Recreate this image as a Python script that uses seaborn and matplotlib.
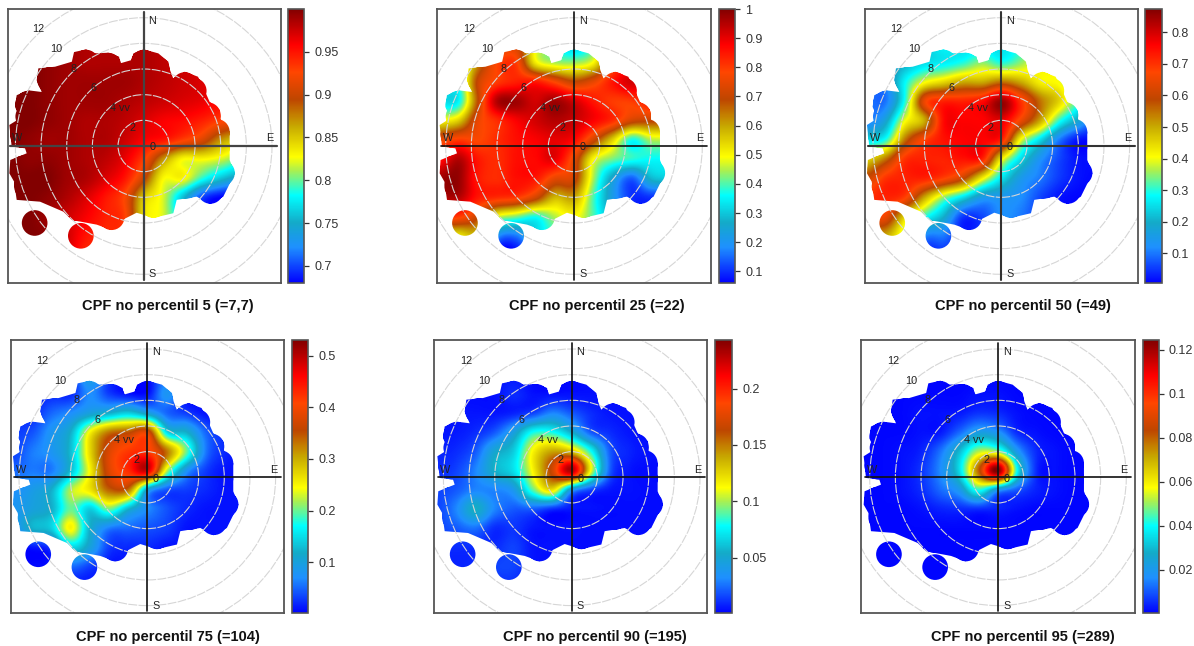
"""CPF polar maps, six percentiles, wind speed vs direction."""
import matplotlib
matplotlib.use("Agg")
import matplotlib.pyplot as plt  # noqa: E402
from matplotlib.colors import LinearSegmentedColormap  # noqa: E402
from matplotlib.patches import Circle  # noqa: E402
from matplotlib.path import Path  # noqa: E402
import numpy as np  # noqa: E402
import seaborn as sns  # noqa: E402

sns.set_theme(style="white")
plt.rcParams["font.family"] = ["Liberation Sans", "DejaVu Sans"]

# grid of the CPF tables: u, v in wind speed units
GRID_U = [-10.5, -9, -7.5, -6, -4.5, -3, -1.5, 0, 1.5, 3, 4.5, 6, 7.5]
GRID_V = [8, 6.5, 5, 3.5, 2, 0.5, -1, -2.5, -4, -5.5, -7, -8.5]

CPF_P5 = [
    [1, 1, .995, .99, .985, .985, .985, .985, .98, .975, .97, .965, .96],
    [1, 1, .995, .99, .985, .985, .985, .985, .98, .975, .97, .965, .96],
    [1, 1, .995, .99, .99, .99, .99, .985, .98, .975, .97, .96, .955],
    [1, 1, .995, .99, .99, .99, .985, .98, .975, .97, .965, .955, .95],
    [1, 1, .995, .99, .985, .985, .98, .97, .96, .955, .945, .93, .92],
    [1, .995, .99, .99, .985, .985, .975, .96, .95, .93, .91, .87, .85],
    [1, .995, .995, .99, .985, .98, .965, .93, .87, .83, .83, .82, .80],
    [1, 1, 1, .99, .985, .97, .95, .9, .83, .83, .79, .76, .74],
    [1, 1, .995, .985, .97, .95, .925, .85, .82, .76, .70, .68, .68],
    [1, 1, .99, .975, .96, .945, .93, .84, .82, .76, .7, .68, .68],
    [1, 1, .995, .975, .95, .94, .93, .84, .82, .76, .7, .68, .68],
    [1, 1, .995, .975, .94, .94, .93, .84, .82, .76, .7, .68, .68],
]
CPF_P25 = [
    [.5, .5, .6, .7, .72, .5, .4, .3, .4, .7, .85, .85, .85],
    [.45, .4, .62, .78, .8, .52, .45, .44, .5, .75, .85, .85, .85],
    [.4, .38, .7, .8, .84, .85, .78, .7, .75, .85, .92, .85, .85],
    [.33, .35, .68, .95, .97, .92, .97, .92, .85, .8, .8, .85, .85],
    [.5, .55, .75, .82, .88, .92, .95, .93, .88, .82, .72, .7, .7],
    [.75, .8, .78, .82, .86, .88, .9, .87, .72, .55, .37, .45, .45],
    [.85, .95, .85, .82, .86, .87, .9, .75, .5, .42, .38, .36, .36],
    [.97, .98, .85, .82, .86, .85, .75, .72, .45, .25, .14, .28, .3],
    [.95, .95, .85, .82, .8, .72, .58, .6, .4, .22, .1, .1, .1],
    [.8, .8, .7, .48, .42, .37, .45, .5, .4, .25, .1, .1, .1],
    [.52, .52, .55, .2, .16, .3, .4, .5, .4, .25, .1, .1, .1],
    [.5, .5, .5, .07, .06, .2, .4, .5, .4, .25, .1, .1, .1],
]
CPF_P50 = [
    [.12, .12, .18, .22, .28, .25, .25, .25, .3, .4, .4, .3, .2],
    [.13, .15, .2, .25, .27, .3, .35, .3, .35, .42, .4, .3, .2],
    [.1, .12, .28, .4, .45, .5, .5, .55, .5, .42, .4, .3, .2],
    [.1, .1, .3, .65, .72, .72, .75, .85, .7, .55, .45, .3, .15],
    [.1, .18, .4, .5, .75, .76, .76, .78, .65, .5, .3, .18, .05],
    [.25, .3, .55, .68, .74, .76, .76, .72, .4, .25, .1, .02, .02],
    [.45, .55, .7, .72, .72, .74, .72, .42, .25, .13, .06, .02, .02],
    [.6, .7, .72, .72, .68, .6, .42, .26, .15, .1, .05, .02, .01],
    [.7, .72, .68, .5, .35, .25, .15, .14, .12, .06, .02, .01, .01],
    [.65, .65, .45, .3, .2, .05, .06, .12, .1, .05, .02, .01, .01],
    [.5, .5, .35, .12, .1, .03, .05, .1, .1, .05, .02, .01, .01],
    [.5, .5, .35, .05, .04, .03, .05, .1, .1, .05, .02, .01, .01],
]
CPF_P75 = [
    [.01, .01, .01, .02, .1, .03, .01, .01, .05, .01, .01, .01, .01],
    [.01, .01, .02, .02, .07, .03, .01, .01, .08, .01, .01, .01, .01],
    [.02, .02, .05, .07, .1, .12, .14, .1, .05, .03, .01, .01, .01],
    [.03, .04, .08, .12, .25, .33, .35, .38, .15, .12, .05, .02, .01],
    [.03, .06, .08, .13, .27, .38, .42, .42, .33, .2, .06, .02, .01],
    [.05, .06, .06, .13, .25, .38, .43, .48, .22, .08, .03, .01, .01],
    [.07, .09, .12, .22, .26, .34, .33, .1, .04, .03, .02, .01, .01],
    [.08, .1, .12, .2, .14, .2, .12, .07, .04, .02, .01, .01, .01],
    [.07, .12, .14, .25, .12, .06, .05, .04, .03, .01, .01, .01, .01],
    [.01, .01, .03, .14, .1, .03, .02, .02, .01, .01, .01, .01, .01],
    [.005, .005, .01, .05, .03, .01, .01, .01, .01, .01, .01, .01, .01],
    [.005, .005, .01, .01, .01, .01, .01, .01, .01, .01, .01, .01, .01],
]
CPF_P90 = [
    [.002, .002, .003, .003, .005, .003, .003, .003, .003, .003, .003, .003, .003],
    [.002, .003, .003, .004, .01, .004, .004, .004, .004, .004, .003, .003, .003],
    [.003, .005, .005, .005, .008, .015, .03, .02, .01, .005, .004, .003, .003],
    [.005, .006, .01, .02, .045, .08, .08, .055, .02, .01, .005, .003, .003],
    [.008, .01, .02, .05, .065, .115, .14, .13, .08, .02, .008, .004, .003],
    [.01, .015, .03, .055, .07, .115, .17, .23, .11, .02, .005, .003, .003],
    [.015, .02, .03, .03, .04, .09, .12, .04, .015, .005, .004, .003, .003],
    [.015, .03, .055, .03, .02, .02, .01, .005, .004, .003, .003, .003, .003],
    [.015, .02, .025, .01, .012, .005, .004, .004, .003, .003, .003, .003, .003],
    [.01, .01, .01, .01, .015, .005, .004, .003, .003, .003, .003, .003, .003],
    [.008, .008, .01, .015, .015, .005, .003, .003, .003, .003, .003, .003, .003],
    [.008, .008, .01, .01, .01, .005, .003, .003, .003, .003, .003, .003, .003],
]
CPF_P95 = [
    [.001, .001, .001, .001, .001, .001, .001, .001, .001, .001, .001, .001, .001],
    [.001, .001, .001, .001, .001, .001, .002, .002, .001, .001, .001, .001, .001],
    [.001, .001, .001, .002, .002, .003, .006, .005, .002, .001, .001, .001, .001],
    [.001, .001, .001, .002, .003, .012, .022, .018, .005, .002, .001, .001, .001],
    [.001, .001, .002, .004, .013, .03, .052, .05, .02, .005, .002, .001, .001],
    [.001, .001, .002, .006, .016, .035, .08, .124, .04, .005, .002, .001, .001],
    [.001, .001, .002, .005, .012, .02, .042, .02, .01, .004, .002, .001, .001],
    [.001, .001, .001, .002, .004, .005, .005, .004, .002, .001, .001, .001, .001],
    [.001, .001, .001, .001, .001, .001, .001, .001, .001, .001, .001, .001, .001],
    [.001, .001, .001, .001, .001, .001, .001, .001, .001, .001, .001, .001, .001],
    [.001, .001, .001, .001, .001, .001, .001, .001, .001, .001, .001, .001, .001],
    [.001, .001, .001, .001, .001, .001, .001, .001, .001, .001, .001, .001, .001],
]

TITLES = ["CPF no percentil 5 (=7,7)", "CPF no percentil 25 (=22)",
          "CPF no percentil 50 (=49)", "CPF no percentil 75 (=104)",
          "CPF no percentil 90 (=195)", "CPF no percentil 95 (=289)"]
TABLES = [CPF_P5, CPF_P25, CPF_P50, CPF_P75, CPF_P90, CPF_P95]
VMIN = [0.68, 0.06, 0.006, 0.001, 0.0005, 0.0003]
VMAX = [1.0, 1.0, 0.874, 0.53, 0.243, 0.1244]
TICKS = [[0.7, 0.75, 0.8, 0.85, 0.9, 0.95],
         [0.1, 0.2, 0.3, 0.4, 0.5, 0.6, 0.7, 0.8, 0.9, 1],
         [0.1, 0.2, 0.3, 0.4, 0.5, 0.6, 0.7, 0.8],
         [0.1, 0.2, 0.3, 0.4, 0.5],
         [0.05, 0.1, 0.15, 0.2],
         [0.02, 0.04, 0.06, 0.08, 0.1, 0.12]]

RINGS = [2, 4, 6, 8, 10, 12]

# edge of the sampled area (u, v), traced counter clockwise
EDGE_U = [-4.49, -3.87, -2.75, -1.92, -1.84, -0.94, -0.8, 0, 1.14, 1.92, 2.05, 2.3, 3.2,
          4.23, 4.62, 5.14, 5.92, 6.05, 6.7, 6.7, 7.1, 6.2, 5.17, 4.13, 2.57, 2.31, 0.75,
          -0.55, -1.84, -2.5, -3.66, -5.6, -6.26, -8.08, -9.9, -10.1, -10.47, -10.4,
          -9.12, -9.25, -10.29, -10.47, -9.64, -10.03, -9.9, -8.99, -7.95, -8.34, -8.21,
          -6.91, -5.6, -5.43]
EDGE_V = [7.53, 7.22, 7.27, 6.96, 6.44, 6.7, 7.22, 7.53, 7.22, 6.57, 5.92, 5.27, 5.79,
          5.4, 4.62, 3.44, 2.81, 1.38, 1.12, -1.09, -2.13, -3.95, -4.52, -3.95, -4.2, -5.24,
          -5.6, -5.2, -5.85, -6.55, -6.13, -5.77, -5.12, -4.34, -4.2, -2.78, -2.13, -1.09,
          -0.57, -0.18, -0.05, 1.64, 2.16, 3.05, 3.96, 4.34, 4.21, 5.12, 6.05, 6.18, 6.57, 7.32]
# round lobes along that edge
LOBE_U = [-4.49, -2.75, 0, 1.0, 3.2, 3.9, 5.0, 5.7, 5.7, 6.1, 5.2, 3.35, 0.75,
          -2.5, -5.1, -7.3, -9.1, -9.4, -9.4, -9.0, -9.0, -7.3]
LOBE_V = [6.5, 6.26, 6.5, 6.0, 4.75, 4.3, 2.4, 1.1, -0.1, -2.1, -3.5, -3.1, -4.6,
          -5.55, -4.85, -3.2, -3.15, -1.75, 0.85, 2.3, 3.3, 5.15]
ISLAND_U = [-8.5, -4.9]
ISLAND_V = [-6.0, -7.0]
LOBE_R = 1.0

# colour ramp
RAMP = [(0, "#0000ff"), (.13, "#1e90ff"), (.22, "#14aac8"), (.32, "#00ffff"),
        (.41, "#aaf050"), (.46, "#ffff00"), (.57, "#c8aa00"), (.67, "#be4600"),
        (.77, "#ff4600"), (.87, "#ff0000"), (1, "#820000")]
CMAP = LinearSegmentedColormap.from_list("cpf", RAMP, N=512)

W, H = 1194, 646
PX_PER_UNIT = 12.83
# pixel layout of each panel: box left/right, top/bottom, centre x/y, bar left/right, title x/y
BOX_L = [8, 437.3, 865, 10.7, 434.3, 861.3]
BOX_R = [281, 711, 1138.3, 284.3, 707.3, 1135]
BOX_T = [9, 9, 9, 340.3, 340.3, 340.3]
BOX_B = [283, 283, 283, 613.3, 613.3, 613.3]
CX = [143.7, 574, 1001.3, 147.3, 571.7, 998]
CY = [146, 146, 146, 477.3, 477.3, 477.3]
BAR_L = [288, 719, 1145.3, 292, 715, 1142.7]
BAR_R = [304, 735, 1161.7, 308, 732.3, 1158.7]
TITLE_X = [168, 596.7, 1023, 168, 595, 1022.7]
TITLE_Y = [306, 306, 306, 636.7, 636.7, 636.7]
CROSS_COLOR = ["#444444", "#111111", "#333333", "#111111", "#111111", "#111111"]
CROSS_LW = [1.6, 1.2, 1.5, 1.2, 1.2, 1.2]

FRAME = "#555555"
TEXT = "#222222"


def rect(l, r, t, b):
    return [l / W, 1 - b / H, (r - l) / W, (b - t) / H]


def area_path():
    """Union of the lobes and the traced edge, all wound the same way."""
    parts = [Path.circle((u, v), LOBE_R) for u, v in
             zip(LOBE_U + ISLAND_U, LOBE_V + ISLAND_V)]
    edge = list(zip(EDGE_U, EDGE_V))[::-1]  # traced clockwise on the page
    parts.append(Path(edge + edge[:1], closed=True))
    return Path.make_compound_path(*parts)


def panel(fig, i):
    ax = fig.add_axes(rect(BOX_L[i], BOX_R[i], BOX_T[i], BOX_B[i]))
    cax = fig.add_axes(rect(BAR_L[i], BAR_R[i], BOX_T[i], BOX_B[i]))
    values = np.array(TABLES[i], dtype=float)

    # heatmap gives the legend bar; the cells themselves are drawn smoothed below
    sns.heatmap(values, ax=ax, cbar_ax=cax, cmap=CMAP, vmin=VMIN[i], vmax=VMAX[i],
                xticklabels=False, yticklabels=False,
                cbar_kws={"ticks": TICKS[i], "format": "%g"})
    ax.collections[0].set_visible(False)

    du = (GRID_U[1] - GRID_U[0]) / 2
    dv = (GRID_V[0] - GRID_V[1]) / 2
    img = ax.imshow(values, cmap=CMAP, vmin=VMIN[i], vmax=VMAX[i],
                    interpolation="catrom", aspect="auto", origin="upper",
                    extent=(GRID_U[0] - du, GRID_U[-1] + du,
                            GRID_V[-1] - dv, GRID_V[0] + dv))
    img.set_clip_path(area_path(), transform=ax.transData)

    ax.set_xlim((BOX_L[i] - CX[i]) / PX_PER_UNIT, (BOX_R[i] - CX[i]) / PX_PER_UNIT)
    ax.set_ylim((CY[i] - BOX_B[i]) / PX_PER_UNIT, (CY[i] - BOX_T[i]) / PX_PER_UNIT)

    for r in RINGS:
        ax.add_patch(Circle((0, 0), r, fill=False, ec="#d6d6d6", lw=0.8,
                            ls=(0, (8, 1.2))))
    ax.plot([-10.4, 10.4], [0, 0], color=CROSS_COLOR[i], lw=CROSS_LW[i])
    ax.plot([0, 0], [-10.45, 10.45], color=CROSS_COLOR[i], lw=CROSS_LW[i])

    for txt, u, v in [("N", .68, 9.77), ("S", .68, -10), ("E", 9.84, .6), ("W", -9.84, .6),
                      ("0", .68, -.1), ("2", -.86, 1.38), ("4 vv", -1.84, 2.93),
                      ("6", -3.92, 4.5), ("8", -5.48, 6), ("10", -6.78, 7.53),
                      ("12", -8.2, 9.09)]:
        ax.text(u, v, txt, ha="center", va="center", fontsize=7.8, color=TEXT)

    for s in ax.spines.values():
        s.set_visible(True)
        s.set_color(FRAME)
        s.set_linewidth(1.3)

    cbar = ax.collections[0].colorbar
    cbar.outline.set_visible(True)
    cbar.outline.set_edgecolor(FRAME)
    cbar.outline.set_linewidth(1.2)
    cax.tick_params(right=True, length=3.6, width=0.9, color="#333333", pad=3.8,
                    labelsize=9, labelcolor="#333333")

    fig.text(TITLE_X[i] / W, 1 - TITLE_Y[i] / H, TITLES[i], ha="center", va="center",
             fontsize=10.5, fontweight="bold", color="#111111")


def main():
    fig = plt.figure(figsize=(W / 100, H / 100), dpi=100, facecolor="white")
    for i in range(len(TABLES)):
        panel(fig, i)
    fig.savefig("out.png", dpi=100)
    plt.close(fig)


if __name__ == "__main__":
    main()
